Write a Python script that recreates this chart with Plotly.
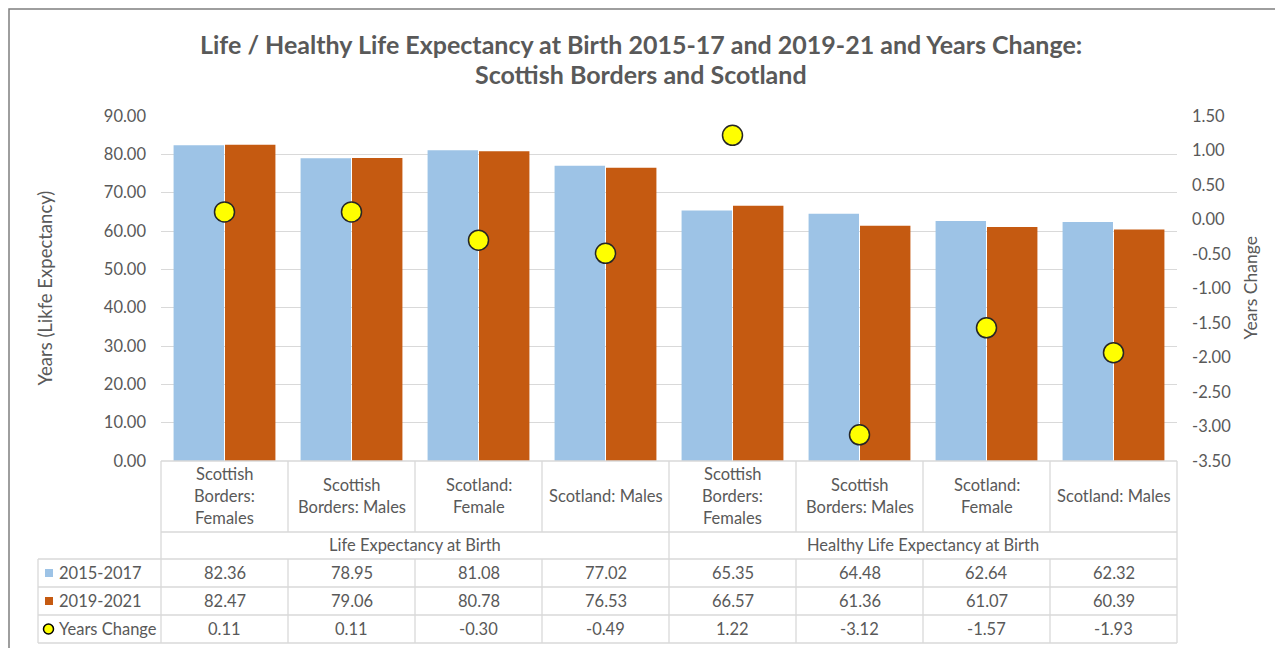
import plotly.graph_objects as go

# ---------------- data ----------------
categories = [
    "Scottish\nBorders:\nFemales", "Scottish\nBorders: Males", "Scotland:\nFemale", "Scotland: Males",
    "Scottish\nBorders:\nFemales", "Scottish\nBorders: Males", "Scotland:\nFemale", "Scotland: Males",
]
groups = ["Life Expectancy at Birth", "Healthy Life Expectancy at Birth"]
series_names = ["2015-2017", "2019-2021", "Years Change"]
le_2015_17 = [82.36, 78.95, 81.08, 77.02, 65.35, 64.48, 62.64, 62.32]
le_2019_21 = [82.47, 79.06, 80.78, 76.53, 66.57, 61.36, 61.07, 60.39]
years_change = [0.11, 0.11, -0.30, -0.49, 1.22, -3.12, -1.57, -1.93]
left_ticks = [0, 10, 20, 30, 40, 50, 60, 70, 80, 90]
right_ticks = [-3.5, -3.0, -2.5, -2.0, -1.5, -1.0, -0.5, 0.0, 0.5, 1.0, 1.5]
title_lines = ["Life / Healthy Life Expectancy at Birth 2015-17 and 2019-21 and Years Change:",
               "Scottish Borders and Scotland"]

# ---------------- style ----------------
OFF = 8                      # page body margin
W, H = 1283 - OFF, 648 - OFF  # figure size
# plot area in screen pixels
PL, PR, PT, PB = 161, 1177, 116, 461
BLUE = "#9DC3E6"
ORANGE = "#C55A11"
YELLOW = "#FFFF00"
TXT = "#595959"
GRID = "#D9D9D9"
FONT = "Lato"
FS = 16.5

def px(x):
    return (x - PL) / (PR - PL)

def py(y):
    return (PB - y) / (PB - PT)

n = len(categories)
xs = list(range(n))

fig = go.Figure()
fig.add_trace(go.Bar(x=xs, y=le_2015_17, name=series_names[0], marker=dict(color=BLUE, line=dict(width=0))))
fig.add_trace(go.Bar(x=xs, y=le_2019_21, name=series_names[1], marker=dict(color=ORANGE, line=dict(width=0))))
fig.add_trace(go.Scatter(x=xs, y=years_change, name=series_names[2], mode="markers", yaxis="y2",
                         marker=dict(color=YELLOW, size=20, line=dict(color="#262626", width=1.5))))

fmt = lambda v: f"{v:.2f}"

fig.update_layout(
    width=W, height=H, autosize=False,
    margin=dict(l=PL - OFF, r=(W + OFF) - PR, t=PT - OFF, b=(H + OFF) - PB, pad=0),
    paper_bgcolor="white", plot_bgcolor="white",
    showlegend=False,
    barmode="group", bargap=0.19, bargroupgap=0.02,
    font=dict(family=FONT, color=TXT, size=FS),
    xaxis=dict(range=[-0.5, n - 0.5], showticklabels=False, showgrid=False, zeroline=False,
               showline=False, ticks=""),
    yaxis=dict(range=[0, 90], tickvals=left_ticks, ticktext=[fmt(v) for v in left_ticks],
               showgrid=True, gridcolor=GRID, gridwidth=1, zeroline=False, showline=False,
               ticks="", ticklabelstandoff=14, tickfont=dict(size=FS, color=TXT, family=FONT)),
    yaxis2=dict(range=[-3.5, 1.5], tickvals=right_ticks,
                ticktext=[fmt(v).replace("\u2212", "-") for v in right_ticks],
                overlaying="y", side="right", showgrid=False, zeroline=False, showline=False,
                ticks="", ticklabelstandoff=14, tickfont=dict(size=FS, color=TXT, family=FONT)),
)

shapes = []
ann = []

def hline(x0, x1, y, color=GRID, w=1.3):
    shapes.append(dict(type="line", xref="paper", yref="paper", x0=px(x0), x1=px(x1), y0=py(y), y1=py(y),
                       line=dict(color=color, width=w)))

def vline(x, y0, y1, color=GRID, w=1.3):
    shapes.append(dict(type="line", xref="paper", yref="paper", x0=px(x), x1=px(x), y0=py(y0), y1=py(y1),
                       line=dict(color=color, width=w)))

# outer chart frame
shapes.append(dict(type="rect", xref="paper", yref="paper", x0=px(OFF + 1), x1=px(1300), y0=py(OFF + 1),
                   y1=py(700), line=dict(color="#7F7F7F", width=1.5), fillcolor="rgba(0,0,0,0)", layer="below"))

# table geometry
col_w = (PR - PL) / n
cat_bottom = 532
row_lines = [559, 587, 615, 643]
LEG_L = 38

hline(PL, PR, PB)
hline(PL, PR, cat_bottom)
for y in row_lines:
    hline(LEG_L, PR, y)
for i in range(n + 1):
    xb = PL + i * col_w
    if i in (0, n // 2, n):
        vline(xb, PB, row_lines[-1])
    else:
        vline(xb, PB, cat_bottom)
        vline(xb, row_lines[0], row_lines[-1])
vline(LEG_L, row_lines[0], row_lines[-1])

# category labels
for i, lab in enumerate(categories):
    lines = lab.split("\n")
    m = len(lines)
    for k, t in enumerate(lines):
        yy = 496 + (k - (m - 1) / 2) * 22
        ann.append(dict(x=i, xref="x", y=py(yy), yref="paper", text=t, showarrow=False,
                        xanchor="center", yanchor="middle", font=dict(size=FS, color=TXT, family=FONT)))

# group labels
half = n // 2
for g, name in enumerate(groups):
    cx = (g * half + (g + 1) * half - 1) / 2
    ann.append(dict(x=cx, xref="x", y=py(545), yref="paper", text=name, showarrow=False,
                    xanchor="center", yanchor="middle", font=dict(size=FS, color=TXT, family=FONT)))

# data rows
rows = [le_2015_17, le_2019_21, years_change]
row_centers = [573, 601, 629]
for r, vals in enumerate(rows):
    for i, v in enumerate(vals):
        ann.append(dict(x=i, xref="x", y=py(row_centers[r]), yref="paper", text=fmt(v), showarrow=False,
                        xanchor="center", yanchor="middle", font=dict(size=FS, color=TXT, family=FONT)))
    ann.append(dict(x=px(57), xref="paper", y=py(row_centers[r]), yref="paper", text=series_names[r],
                    showarrow=False, xanchor="left", yanchor="middle",
                    font=dict(size=FS, color=TXT, family=FONT)))

# legend keys in table
for r, col in enumerate([BLUE, ORANGE]):
    yc = row_centers[r]
    shapes.append(dict(type="rect", xref="paper", yref="paper", x0=px(45), x1=px(53), y0=py(yc - 4), y1=py(yc + 4),
                       fillcolor=col, line=dict(width=0)))
yc = row_centers[2]
shapes.append(dict(type="circle", xref="paper", yref="paper", x0=px(43.5), x1=px(53.5), y0=py(yc - 5),
                   y1=py(yc + 5), fillcolor=YELLOW, line=dict(color="#000000", width=1.5)))

# axis titles
ann.append(dict(x=px(44), xref="paper", y=0.5, yref="paper", text="Years (Likfe Expectancy)", textangle=-90,
                showarrow=False, xanchor="center", yanchor="middle", font=dict(size=18.5, color=TXT, family=FONT)))
ann.append(dict(x=px(1250), xref="paper", y=0.5, yref="paper", text="Years Change", textangle=-90,
                showarrow=False, xanchor="center", yanchor="middle", font=dict(size=17.5, color=TXT, family=FONT)))

# title
for k, t in enumerate(title_lines):
    ann.append(dict(x=px(641), xref="paper", y=py(44 + 30 * k), yref="paper", text="<b>" + t + "</b>",
                    showarrow=False, xanchor="center", yanchor="middle",
                    font=dict(size=25, color=TXT, family=FONT)))

fig.update_layout(shapes=shapes, annotations=ann)
fig.write_html("out.html")
